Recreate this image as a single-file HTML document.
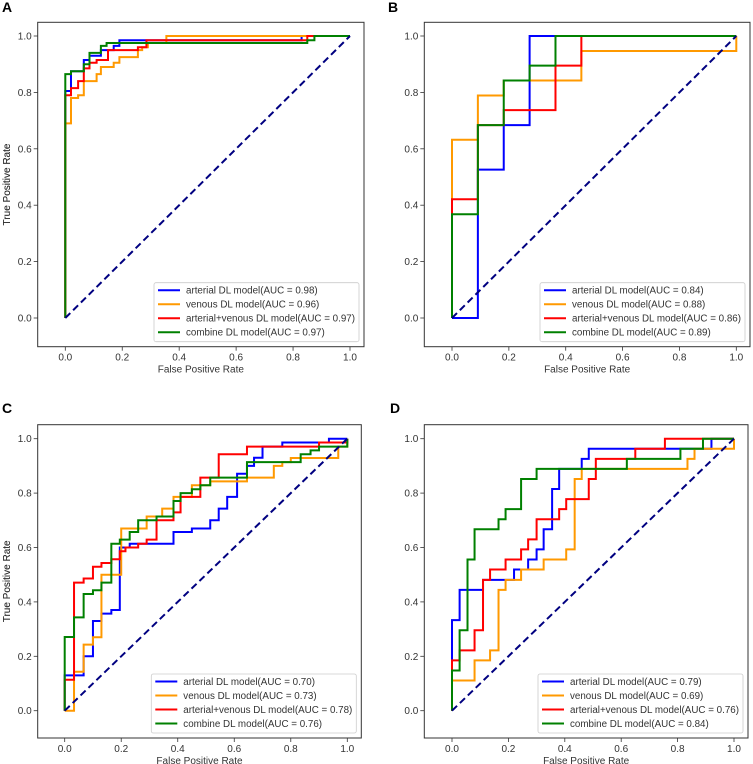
<!DOCTYPE html>
<html><head><meta charset="utf-8">
<style>
html,body{margin:0;padding:0;background:#fff;}
svg{display:block;font-family:"Liberation Sans",sans-serif;}
</style></head>
<body>
<svg id="fig" width="753" height="764" viewBox="0 0 753 764"></svg>
<script>
// ---- data (fpr, tpr step corners; path goes horizontal then vertical) ----
const tickVals = [0, 0.2, 0.4, 0.6, 0.8, 1.0];
const tickLabels = ["0.0", "0.2", "0.4", "0.6", "0.8", "1.0"];
const seriesNames = ["arterial DL model", "venous DL model", "arterial+venous DL model", "combine DL model"];
const seriesColors = ["#0000ff", "#ff9900", "#ff0000", "#008000"];
const panelLetters = ["A", "B", "C", "D"];
const aucA = ["0.98", "0.96", "0.97", "0.97"];
const aucB = ["0.84", "0.88", "0.86", "0.89"];
const aucC = ["0.70", "0.73", "0.78", "0.76"];
const aucD = ["0.79", "0.69", "0.76", "0.84"];

const aArtFpr = [0,0,0.02,0.065,0.085,0.125,0.17,0.19,0.83,1];
const aArtTpr = [0,0.805,0.875,0.915,0.93,0.95,0.965,0.985,1,1];
const aVenFpr = [0,0,0.02,0.045,0.065,0.11,0.125,0.17,0.19,0.255,0.27,0.29,0.355,1];
const aVenTpr = [0,0.69,0.78,0.79,0.84,0.865,0.89,0.905,0.925,0.95,0.96,0.975,1,1];
const aAvFpr = [0,0,0.02,0.045,0.065,0.085,0.11,0.15,0.255,0.285,0.85,1];
const aAvTpr = [0,0.79,0.815,0.84,0.885,0.905,0.915,0.95,0.96,0.985,1,1];
const aComFpr = [0,0,0.02,0.065,0.085,0.125,0.145,0.85,0.875,1];
const aComTpr = [0,0.865,0.875,0.9,0.94,0.965,0.975,0.985,1,1];

const bArtFpr = [0,0.091,0.182,0.273,1];
const bArtTpr = [0,0.526,0.684,1,1];
const bVenFpr = [0,0,0.091,0.182,0.455,1,1];
const bVenTpr = [0,0.632,0.789,0.842,0.947,0.947,1];
const bAvFpr = [0,0,0.091,0.182,0.364,0.455,1];
const bAvTpr = [0,0.421,0.684,0.737,0.895,1,1];
const bComFpr = [0,0,0.091,0.182,0.273,0.364,1];
const bComTpr = [0,0.368,0.684,0.842,0.895,1,1];

const cArtFpr = [0,0,0.067,0.1,0.13,0.165,0.195,0.23,0.385,0.45,0.515,0.545,0.575,0.61,0.645,0.67,0.7,0.77,0.935,1];
const cArtTpr = [0,0.13,0.2,0.33,0.357,0.37,0.6,0.614,0.657,0.67,0.7,0.743,0.786,0.871,0.9,0.93,0.971,0.986,1,1];
const cVenFpr = [0,0.033,0.033,0.067,0.1,0.13,0.2,0.29,0.345,0.385,0.45,0.515,0.645,0.74,0.77,0.8,0.968,1];
const cVenTpr = [0,0.014,0.143,0.243,0.27,0.5,0.67,0.714,0.743,0.786,0.829,0.843,0.857,0.9,0.914,0.929,0.971,1];
const cAvFpr = [0,0,0.033,0.067,0.1,0.13,0.165,0.195,0.215,0.26,0.29,0.325,0.385,0.41,0.48,0.545,0.645,0.9,1];
const cAvTpr = [0,0.114,0.471,0.486,0.529,0.543,0.557,0.586,0.6,0.614,0.629,0.7,0.729,0.786,0.857,0.943,0.971,0.986,1];
const cComFpr = [0,0,0.033,0.067,0.1,0.13,0.165,0.195,0.23,0.26,0.325,0.385,0.41,0.45,0.48,0.515,0.645,0.835,0.87,0.9,1];
const cComTpr = [0,0.271,0.343,0.429,0.443,0.471,0.614,0.629,0.657,0.7,0.714,0.771,0.8,0.814,0.829,0.857,0.914,0.943,0.957,0.971,1];

const dArtFpr = [0,0,0.027,0.11,0.22,0.27,0.3,0.325,0.355,0.38,0.46,0.485,0.92,1];
const dArtTpr = [0,0.333,0.444,0.481,0.519,0.556,0.593,0.667,0.815,0.889,0.926,0.963,1,1];
const dVenFpr = [0,0,0.08,0.135,0.165,0.19,0.245,0.325,0.405,0.435,0.46,0.835,0.86,1,1];
const dVenTpr = [0,0.111,0.185,0.222,0.444,0.481,0.519,0.556,0.593,0.852,0.889,0.926,0.963,0.963,1];
const dAvFpr = [0,0,0.027,0.08,0.11,0.135,0.19,0.245,0.27,0.3,0.38,0.405,0.485,0.51,0.65,0.755,1];
const dAvTpr = [0,0.185,0.222,0.296,0.481,0.519,0.556,0.593,0.63,0.704,0.741,0.778,0.852,0.926,0.963,1,1];
const dComFpr = [0,0,0.027,0.055,0.08,0.165,0.19,0.245,0.3,0.62,0.81,0.89,1];
const dComTpr = [0,0.148,0.296,0.556,0.667,0.704,0.741,0.852,0.889,0.926,0.963,1,1];

const NS = "http://www.w3.org/2000/svg";
const svg = document.getElementById("fig");
function mk(tag, attrs, parent, text) {
  const e = document.createElementNS(NS, tag);
  for (const k in attrs) e.setAttribute(k, attrs[k]);
  if (text !== undefined) e.textContent = text;
  (parent || svg).appendChild(e);
  return e;
}

const panels = [
  {box:[37.7,22.3,364,346.7], x0:65.3, x1:350, y0:318, y1:36, lx:2, ly:12,
   auc:aucA, fpr:[aArtFpr,aVenFpr,aAvFpr,aComFpr], tpr:[aArtTpr,aVenTpr,aAvTpr,aComTpr]},
  {box:[424.3,22.3,750,346.7], x0:452, x1:736.3, y0:318, y1:36, lx:388, ly:12,
   auc:aucB, fpr:[bArtFpr,bVenFpr,bAvFpr,bComFpr], tpr:[bArtTpr,bVenTpr,bAvTpr,bComTpr]},
  {box:[37.7,424.7,361.3,738], x0:64.7, x1:347.3, y0:710.7, y1:438.7, lx:2, ly:413,
   auc:aucC, fpr:[cArtFpr,cVenFpr,cAvFpr,cComFpr], tpr:[cArtTpr,cVenTpr,cAvTpr,cComTpr]},
  {box:[424.3,424.7,748,738], x0:452, x1:734, y0:710.7, y1:438.7, lx:390, ly:413,
   auc:aucD, fpr:[dArtFpr,dVenFpr,dAvFpr,dComFpr], tpr:[dArtTpr,dVenTpr,dAvTpr,dComTpr]}
];

panels.forEach((p, pi) => {
  const g = mk("g", {});
  
  
  const X = v => p.x0 + v * (p.x1 - p.x0);
  const Y = v => p.y0 + v * (p.y1 - p.y0);
  const [bx0, by0, bx1, by1] = p.box;

  const lt = mk("text", {x:p.lx, y:p.ly, "font-size":14, "font-weight":"bold", fill:"#000"}, g, panelLetters[pi]);
  
  

  tickVals.forEach((v, i) => {
    mk("line", {x1:X(v), x2:X(v), y1:by1, y2:by1+4, stroke:"#333", "stroke-width":0.8}, g);
    const tx = mk("text", {x:X(v), y:by1+14, "font-size":10, fill:"#333", "text-anchor":"middle"}, g, tickLabels[i]);
    
    
    mk("line", {x1:bx0-4, x2:bx0, y1:Y(v), y2:Y(v), stroke:"#333", "stroke-width":0.8}, g);
    const ty = mk("text", {x:bx0-6, y:Y(v)+3.5, "font-size":10, fill:"#333", "text-anchor":"end"}, g, tickLabels[i]);
    
    
  });
  const xt = mk("text", {x:(bx0+bx1)/2, y:by1+26, "font-size":10, fill:"#333", "text-anchor":"middle"}, g, "False Positive Rate");
  
  
  const ycx = 10, ycy = (by0+by1)/2;
  const yt = mk("text", {x:ycx, y:ycy, "font-size":10, fill:"#333", "text-anchor":"middle", transform:`rotate(-90 ${ycx} ${ycy})`}, g, "True Positive Rate");
  
  

  for (let s = 0; s < 4; s++) {
    const fx = p.fpr[s], ty2 = p.tpr[s];
    let d = `M${X(fx[0])},${Y(ty2[0])}`;
    for (let i = 1; i < fx.length; i++) {
      d += ` L${X(fx[i])},${Y(ty2[i-1])} L${X(fx[i])},${Y(ty2[i])}`;
    }
    const path = mk("path", {d:d, fill:"none", stroke:seriesColors[s], "stroke-width":2}, g);
    
    
  }
  const diag = mk("line", {x1:X(0), y1:Y(0), x2:X(1), y2:Y(1), stroke:"#000080", "stroke-width":2, "stroke-dasharray":"7,4"}, g);
  
  

  mk("rect", {x:bx0, y:by0, width:bx1-bx0, height:by1-by0, fill:"none", stroke:"#333", "stroke-width":1}, g);

  const lw = 205, lh = 59;
  const lgx = bx1 - 5 - lw, lgy = by1 - 5 - lh;
  const lg = mk("g", {}, g);
  
  
  mk("rect", {x:lgx, y:lgy, width:lw, height:lh, rx:2, fill:"#fff", "fill-opacity":0.85, stroke:"#ccc", "stroke-width":0.8}, lg);
  for (let s = 0; s < 4; s++) {
    const ry = lgy + 7.5 + s * 14;
    mk("line", {x1:lgx+4, x2:lgx+26, y1:ry, y2:ry, stroke:seriesColors[s], "stroke-width":2}, lg);
    const t = mk("text", {x:lgx+32, y:ry+3.5, "font-size":9.8, fill:"#333"}, lg, `${seriesNames[s]}(AUC = ${p.auc[s]})`);
    
    
  }
});
</script>
</body></html>
